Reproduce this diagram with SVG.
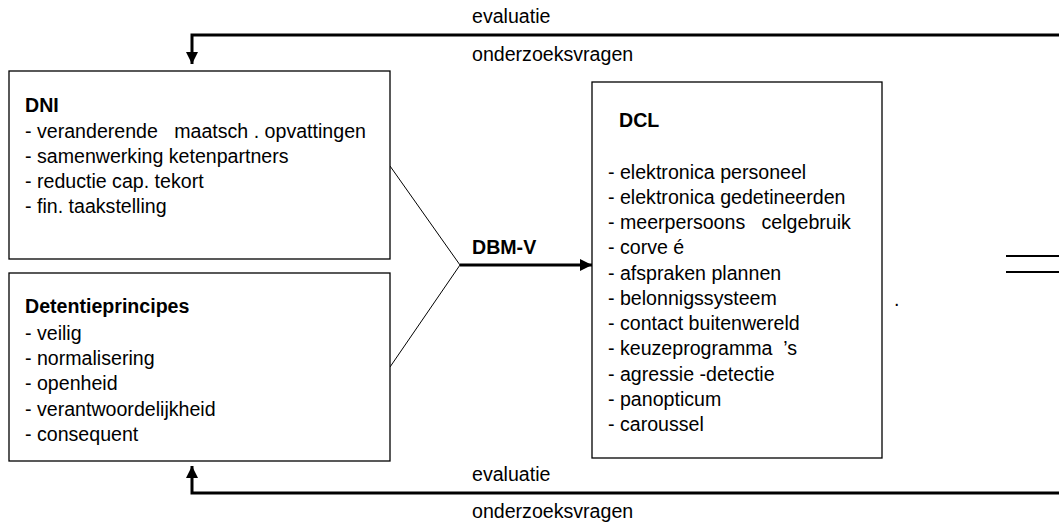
<svg xmlns="http://www.w3.org/2000/svg" width="1059" height="524" viewBox="0 0 1059 524">
<style>
text{font-family:"Liberation Sans",Arial,sans-serif;font-size:19.6px;fill:#000}
.b{font-weight:bold}
.box{fill:#fff;stroke:#000;stroke-width:1.3}
.thick{fill:none;stroke:#000;stroke-width:3}
.thin{fill:none;stroke:#000;stroke-width:1}
</style>
<defs>
<marker id="ah" viewBox="0 0 10 10" refX="10" refY="5" markerWidth="4" markerHeight="4" orient="auto" markerUnits="strokeWidth">
<path d="M0,0 L10,5 L0,10 z" fill="#000"/>
</marker>
</defs>
<rect width="1059" height="524" fill="#fff"/>
<g id="connectors">
<path class="thick" d="M1059,35 H192 V64" marker-end="url(#ah)"/>
<path class="thick" d="M1059,493 H192 V466" marker-end="url(#ah)"/>
<path class="thin" d="M390,166 L460,265 L390,367"/>
<path class="thick" d="M460,265 H592" marker-end="url(#ah)"/>
<line x1="1006" y1="256" x2="1059" y2="256" stroke="#000" stroke-width="2"/>
<line x1="1006" y1="272" x2="1059" y2="272" stroke="#000" stroke-width="2"/>
</g>
<g id="labels">
<text x="472" y="23">evaluatie</text>
<text x="472" y="61">onderzoeksvragen</text>
<text x="472" y="481">evaluatie</text>
<text x="472" y="518">onderzoeksvragen</text>
<text class="b" x="472" y="254">DBM-V</text>
<text x="894" y="306">.</text>
</g>
<g id="dni">
<rect class="box" x="9" y="71" width="381" height="188"/>
<text class="b" x="25" y="112">DNI</text>
<text x="25" y="138" xml:space="preserve">- veranderende   maatsch . opvattingen</text>
<text x="25" y="163">- samenwerking ketenpartners</text>
<text x="25" y="188">- reductie cap. tekort</text>
<text x="25" y="213">- fin. taakstelling</text>
</g>
<g id="detentie">
<rect class="box" x="9" y="273" width="381" height="188"/>
<text class="b" x="25" y="313">Detentieprincipes</text>
<text x="25" y="340">- veilig</text>
<text x="25" y="365">- normalisering</text>
<text x="25" y="390">- openheid</text>
<text x="25" y="416">- verantwoordelijkheid</text>
<text x="25" y="441">- consequent</text>
</g>
<g id="dcl">
<rect class="box" x="592" y="82" width="290" height="376"/>
<text class="b" x="619" y="127">DCL</text>
<text x="608" y="179">- elektronica personeel</text>
<text x="608" y="204">- elektronica gedetineerden</text>
<text x="608" y="229" xml:space="preserve">- meerpersoons   celgebruik</text>
<text x="608" y="254">- corve é</text>
<text x="608" y="280">- afspraken plannen</text>
<text x="608" y="305">- belonnigssysteem</text>
<text x="608" y="330">- contact buitenwereld</text>
<text x="608" y="355" xml:space="preserve">- keuzeprogramma  ’s</text>
<text x="608" y="381">- agressie -detectie</text>
<text x="608" y="406">- panopticum</text>
<text x="608" y="431">- caroussel</text>
</g>
</svg>
